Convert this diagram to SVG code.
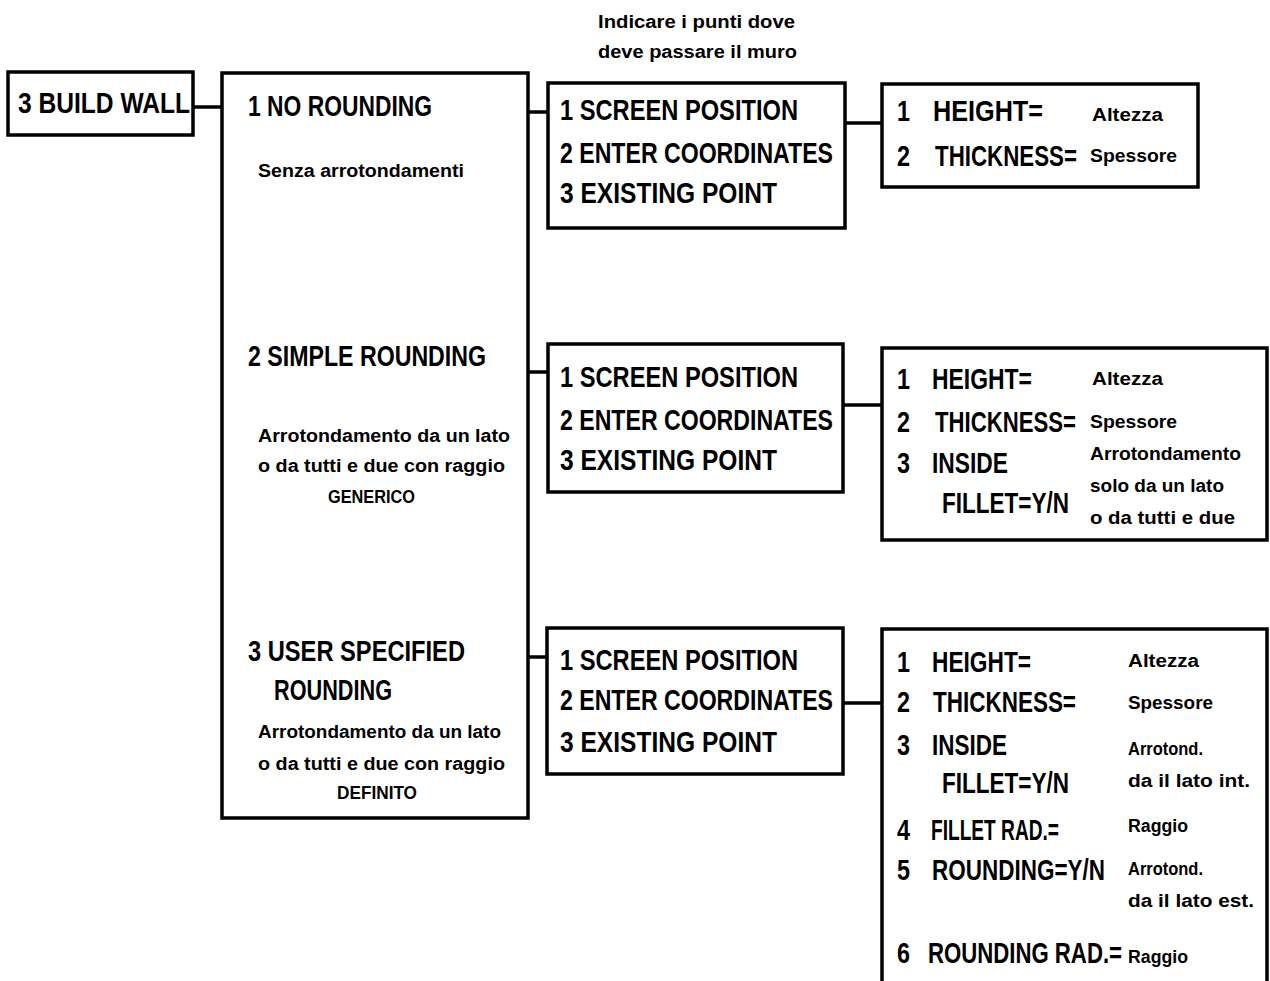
<svg xmlns="http://www.w3.org/2000/svg" width="1270" height="981" viewBox="0 0 1270 981">
<style>
.box{fill:#fff;stroke:#000;stroke-width:3.5}
.con{stroke:#000;stroke-width:3.5;fill:none}
text{font-family:"Liberation Sans",Arial,sans-serif;font-weight:bold;fill:#000}
.b{font-size:30px}
.m{font-size:29px}
.s{font-size:18px}
</style>
<rect width="1270" height="981" fill="#fff"/>
<g id="connectors">
<line class="con" x1="193" y1="107" x2="222" y2="107"/>
<line class="con" x1="528" y1="112" x2="548" y2="112"/>
<line class="con" x1="528" y1="372" x2="548" y2="372"/>
<line class="con" x1="528" y1="657" x2="548" y2="657"/>
<line class="con" x1="845" y1="123" x2="882" y2="123"/>
<line class="con" x1="843" y1="405" x2="882" y2="405"/>
<line class="con" x1="843" y1="703" x2="882" y2="703"/>
</g>
<g id="note">
<text class="s" x="598" y="28" textLength="197" lengthAdjust="spacingAndGlyphs">Indicare i punti dove</text>
<text class="s" x="598" y="58" textLength="199" lengthAdjust="spacingAndGlyphs">deve passare il muro</text>
</g>
<g id="build-wall">
<rect class="box" x="8" y="72" width="185" height="63"/>
<text class="m" x="18" y="113" textLength="172" lengthAdjust="spacingAndGlyphs">3 BUILD WALL</text>
</g>
<g id="rounding-options">
<rect class="box" x="222" y="73" width="306" height="745"/>
<text class="m" x="248" y="116" textLength="184" lengthAdjust="spacingAndGlyphs">1 NO ROUNDING</text>
<text class="s" x="258" y="177" textLength="206" lengthAdjust="spacingAndGlyphs">Senza  arrotondamenti</text>
<text class="m" x="248" y="366" textLength="238" lengthAdjust="spacingAndGlyphs">2 SIMPLE ROUNDING</text>
<text class="s" x="258" y="442" textLength="252" lengthAdjust="spacingAndGlyphs">Arrotondamento  da un lato</text>
<text class="s" x="258" y="472" textLength="247" lengthAdjust="spacingAndGlyphs">o da tutti e due con raggio</text>
<text class="s" x="328" y="503" textLength="87" lengthAdjust="spacingAndGlyphs">GENERICO</text>
<text class="m" x="248" y="661" textLength="217" lengthAdjust="spacingAndGlyphs">3 USER SPECIFIED</text>
<text class="m" x="274" y="700" textLength="118" lengthAdjust="spacingAndGlyphs">ROUNDING</text>
<text class="s" x="258" y="738" textLength="243" lengthAdjust="spacingAndGlyphs">Arrotondamento da un lato</text>
<text class="s" x="258" y="770" textLength="247" lengthAdjust="spacingAndGlyphs">o da tutti e due con raggio</text>
<text class="s" x="337" y="799" textLength="80" lengthAdjust="spacingAndGlyphs">DEFINITO</text>
</g>
<g id="input-1">
<rect class="box" x="548" y="83" width="297" height="145"/>
<text class="b" x="560" y="120" textLength="238" lengthAdjust="spacingAndGlyphs">1 SCREEN POSITION</text>
<text class="b" x="560" y="163" textLength="273" lengthAdjust="spacingAndGlyphs">2 ENTER COORDINATES</text>
<text class="b" x="560" y="203" textLength="217" lengthAdjust="spacingAndGlyphs">3 EXISTING POINT</text>
</g>
<g id="input-2">
<rect class="box" x="548" y="344" width="295" height="148"/>
<text class="b" x="560" y="387" textLength="238" lengthAdjust="spacingAndGlyphs">1 SCREEN POSITION</text>
<text class="b" x="560" y="430" textLength="273" lengthAdjust="spacingAndGlyphs">2 ENTER COORDINATES</text>
<text class="b" x="560" y="470" textLength="217" lengthAdjust="spacingAndGlyphs">3 EXISTING POINT</text>
</g>
<g id="input-3">
<rect class="box" x="547" y="628" width="296" height="146"/>
<text class="b" x="560" y="670" textLength="238" lengthAdjust="spacingAndGlyphs">1 SCREEN POSITION</text>
<text class="b" x="560" y="710" textLength="273" lengthAdjust="spacingAndGlyphs">2 ENTER COORDINATES</text>
<text class="b" x="560" y="752" textLength="217" lengthAdjust="spacingAndGlyphs">3 EXISTING POINT</text>
</g>
<g id="params-1">
<rect class="box" x="882" y="84" width="316" height="103"/>
<text class="b" x="897" y="121" textLength="13" lengthAdjust="spacingAndGlyphs">1</text>
<text class="b" x="933" y="121" textLength="110" lengthAdjust="spacingAndGlyphs">HEIGHT=</text>
<text class="s" x="1092" y="121" textLength="71" lengthAdjust="spacingAndGlyphs">Altezza</text>
<text class="b" x="897" y="166" textLength="13" lengthAdjust="spacingAndGlyphs">2</text>
<text class="b" x="935" y="166" textLength="142" lengthAdjust="spacingAndGlyphs">THICKNESS=</text>
<text class="s" x="1090" y="162" textLength="87" lengthAdjust="spacingAndGlyphs">Spessore</text>
</g>
<g id="params-2">
<rect class="box" x="882" y="348" width="385" height="192"/>
<text class="b" x="897" y="389" textLength="13" lengthAdjust="spacingAndGlyphs">1</text>
<text class="b" x="932" y="389" textLength="100" lengthAdjust="spacingAndGlyphs">HEIGHT=</text>
<text class="s" x="1092" y="385" textLength="71" lengthAdjust="spacingAndGlyphs">Altezza</text>
<text class="b" x="897" y="432" textLength="13" lengthAdjust="spacingAndGlyphs">2</text>
<text class="b" x="935" y="432" textLength="141" lengthAdjust="spacingAndGlyphs">THICKNESS=</text>
<text class="s" x="1090" y="428" textLength="87" lengthAdjust="spacingAndGlyphs">Spessore</text>
<text class="b" x="897" y="473" textLength="13" lengthAdjust="spacingAndGlyphs">3</text>
<text class="b" x="932" y="473" textLength="76" lengthAdjust="spacingAndGlyphs">INSIDE</text>
<text class="s" x="1090" y="460" textLength="151" lengthAdjust="spacingAndGlyphs">Arrotondamento</text>
<text class="b" x="942" y="513" textLength="127" lengthAdjust="spacingAndGlyphs">FILLET=Y/N</text>
<text class="s" x="1090" y="492" textLength="134" lengthAdjust="spacingAndGlyphs">solo da un lato</text>
<text class="s" x="1090" y="524" textLength="145" lengthAdjust="spacingAndGlyphs">o da tutti e due</text>
</g>
<g id="params-3">
<rect class="box" x="882" y="629" width="385" height="354"/>
<text class="b" x="897" y="672" textLength="13" lengthAdjust="spacingAndGlyphs">1</text>
<text class="b" x="932" y="672" textLength="99" lengthAdjust="spacingAndGlyphs">HEIGHT=</text>
<text class="s" x="1128" y="667" textLength="71" lengthAdjust="spacingAndGlyphs">Altezza</text>
<text class="b" x="897" y="712" textLength="13" lengthAdjust="spacingAndGlyphs">2</text>
<text class="b" x="933" y="712" textLength="143" lengthAdjust="spacingAndGlyphs">THICKNESS=</text>
<text class="s" x="1128" y="709" textLength="85" lengthAdjust="spacingAndGlyphs">Spessore</text>
<text class="b" x="897" y="755" textLength="13" lengthAdjust="spacingAndGlyphs">3</text>
<text class="b" x="932" y="755" textLength="75" lengthAdjust="spacingAndGlyphs">INSIDE</text>
<text class="s" x="1128" y="755" textLength="75" lengthAdjust="spacingAndGlyphs">Arrotond.</text>
<text class="b" x="942" y="793" textLength="127" lengthAdjust="spacingAndGlyphs">FILLET=Y/N</text>
<text class="s" x="1128" y="787" textLength="122" lengthAdjust="spacingAndGlyphs">da il lato int.</text>
<text class="b" x="897" y="840" textLength="13" lengthAdjust="spacingAndGlyphs">4</text>
<text class="b" x="931" y="840" textLength="128" lengthAdjust="spacingAndGlyphs">FILLET RAD.=</text>
<text class="s" x="1128" y="832" textLength="60" lengthAdjust="spacingAndGlyphs">Raggio</text>
<text class="b" x="897" y="880" textLength="13" lengthAdjust="spacingAndGlyphs">5</text>
<text class="b" x="932" y="880" textLength="173" lengthAdjust="spacingAndGlyphs">ROUNDING=Y/N</text>
<text class="s" x="1128" y="875" textLength="75" lengthAdjust="spacingAndGlyphs">Arrotond.</text>
<text class="s" x="1128" y="907" textLength="126" lengthAdjust="spacingAndGlyphs">da il lato est.</text>
<text class="b" x="897" y="963" textLength="13" lengthAdjust="spacingAndGlyphs">6</text>
<text class="b" x="928" y="963" textLength="194" lengthAdjust="spacingAndGlyphs">ROUNDING RAD.=</text>
<text class="s" x="1128" y="963" textLength="60" lengthAdjust="spacingAndGlyphs">Raggio</text>
</g>
</svg>
